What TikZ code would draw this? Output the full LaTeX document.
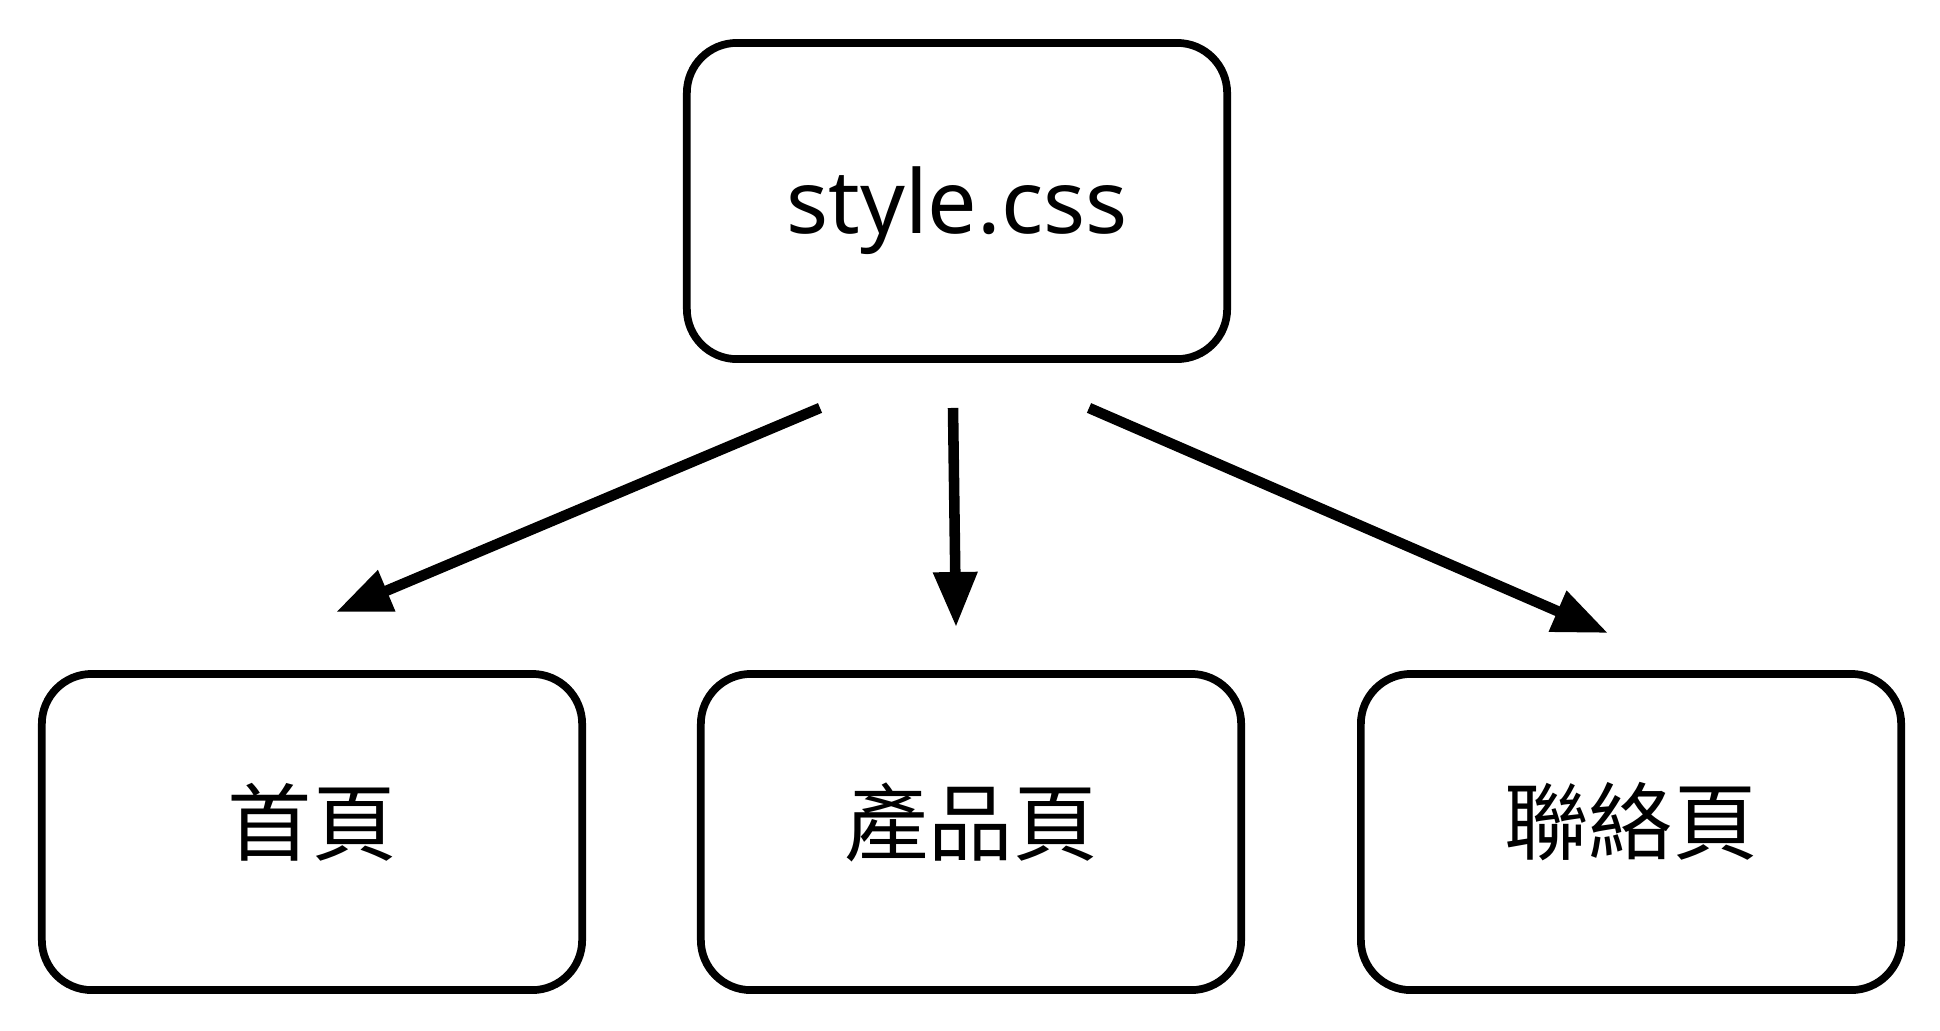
\documentclass[tikz,border=0pt]{standalone}
\usepackage{fontspec}
\setmainfont{Noto Sans}
\newfontfamily\cjk{Noto Sans CJK TC}
\usepackage{tikz}
\usetikzlibrary{arrows.meta}

\begin{document}
\begin{tikzpicture}[x=0.01cm,y=-0.01cm,
                    page/.style={draw,line width=2.2pt,rounded corners=0.5cm,
                        minimum width=5.4cm,minimum height=3.16cm},
                    link/.style={line width=3pt,
                        -{Triangle[length=0.55cm,width=0.42cm]}}]
                    \useasboundingbox (0,0) rectangle (1940,1030);
                    \node [page,font=\fontsize{25}{30}\selectfont] (css) at (957,201) {\raisebox{-0.1cm}[\height][\depth]{style.css}};
                    \foreach \x/\name/\txt in {312/home/首頁,971/product/產品頁,1631/contact/聯絡頁}
                        {
                        \node [page,font=\cjk\fontsize{24}{30}\selectfont] (\name) at (\x,832) {\raisebox{0.1cm}[\height][\depth]{\txt}};
                    }
                    \foreach \dx/\name/\ex/\ey in {-137/home/24/-58,-4/product/-15/-43,132/contact/-23/-37}
                        {
                        \draw [link]([shift={(\dx,45)}]css.south) -- ([shift={(\ex,\ey)}]\name.north);
                    }
                \end{tikzpicture}
\end{document}
